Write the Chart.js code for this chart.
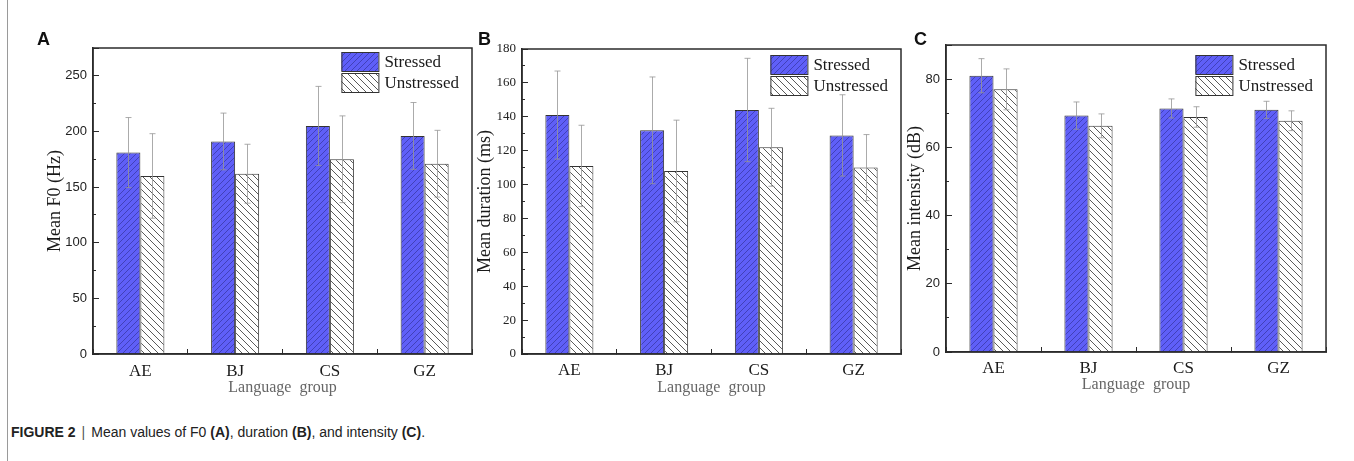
<!DOCTYPE html>
<html>
<head>
<meta charset="utf-8">
<script src="https://cdn.jsdelivr.net/npm/chart.js@4.4.1/dist/chart.umd.min.js"></script>
<style>
  html, body { margin: 0; padding: 0; background: #fff; }
  body { width: 1354px; height: 461px; position: relative; overflow: hidden; }
  .frame { position: absolute; left: 7px; top: 0; width: 1px; height: 461px; background: #9a9a9a; }
  .panel { position: absolute; top: 0; height: 400px; }
  .letter { position: absolute; font: bold 18px Arial, "Liberation Sans", sans-serif; line-height: 18px; color: #111; }
  .caption { position: absolute; left: 11px; top: 424px; font: 14px "Liberation Sans Narrow", "Liberation Sans", Arial, sans-serif; line-height: 16px; color: #222; white-space: nowrap; }
  .caption b { font-weight: bold; }
  .caption .sep { color: #555; margin: 0 6px; }
</style>
</head>
<body>
<div class="frame"></div>
<div class="panel" style="left:8px;width:480px"><canvas id="chartF0"></canvas></div>
<div class="panel" style="left:440px;width:470px"><canvas id="chartDur"></canvas></div>
<div class="panel" style="left:890px;width:464px"><canvas id="chartInt"></canvas></div>
<div class="letter" style="left:37px;top:30px">A</div>
<div class="letter" style="left:478px;top:30px">B</div>
<div class="letter" style="left:914px;top:30px">C</div>
<div class="caption"><b>FIGURE 2</b><span class="sep">|</span>Mean values of F0 <b>(A)</b>, duration <b>(B)</b>, and intensity <b>(C)</b>.</div>

<script>
// Datos
const groups = ['AE', 'BJ', 'CS', 'GZ'];

const f0Stressed = [181, 191, 205, 196];
const f0StressedSD = [31.5, 25.5, 35.5, 30];
const f0Unstressed = [160, 162, 175, 171];
const f0UnstressedSD = [38, 26.5, 39, 30];

const durStressed = [141, 132, 144, 129];
const durStressedSD = [26, 31.5, 30.5, 24];
const durUnstressed = [111, 108, 122, 110];
const durUnstressedSD = [24, 30, 23, 19.5];

const intStressed = [81, 69.3, 71.4, 71];
const intStressedSD = [5, 4, 2.8, 2.5];
const intUnstressed = [77, 66.3, 68.9, 67.8];
const intUnstressedSD = [6, 3.5, 3, 2.9];

const seriesNames = ['Stressed', 'Unstressed'];

const SERIF = '"Liberation Serif", "Times New Roman", serif';
const SANS = '"Liberation Sans", Arial, sans-serif';
const INK = '#2b2b2b';

// Patrones de rayado
function hatch(bg, fg, dir, size, lw) {
    const c = document.createElement('canvas');
    c.width = c.height = size;
    const g = c.getContext('2d');
    g.fillStyle = bg;
    g.fillRect(0, 0, size, size);
    g.strokeStyle = fg;
    g.lineWidth = lw;
    g.beginPath();
    if (dir === '/') {
        g.moveTo(0, size); g.lineTo(size, 0);
        g.moveTo(-2, 2); g.lineTo(2, -2);
        g.moveTo(size - 2, size + 2); g.lineTo(size + 2, size - 2);
    } else {
        g.moveTo(0, 0); g.lineTo(size, size);
        g.moveTo(size - 2, -2); g.lineTo(size + 2, 2);
        g.moveTo(-2, size - 2); g.lineTo(2, size + 2);
    }
    g.stroke();
    return g.createPattern(c, 'repeat');
}
const blueHatch = hatch('#5f5ff8', 'rgba(40,40,130,0.6)', '/', 6, 0.9);
const whiteHatch = hatch('#ffffff', 'rgba(50,50,50,0.8)', '\\', 7, 1);

// Barras de error
const errorBars = {
    id: 'errorBars',
    afterDatasetsDraw(chart) {
        const ctx = chart.ctx;
        const y = chart.scales.y;
        ctx.save();
        ctx.strokeStyle = 'rgba(150,150,150,0.8)';
        ctx.lineWidth = 1;
        chart.data.datasets.forEach((ds, i) => {
            chart.getDatasetMeta(i).data.forEach((bar, j) => {
                const top = y.getPixelForValue(ds.data[j] + ds.sd[j]);
                const bot = y.getPixelForValue(ds.data[j] - ds.sd[j]);
                const x = Math.round(bar.x) + 0.5;
                ctx.beginPath();
                ctx.moveTo(x, top); ctx.lineTo(x, bot);
                ctx.moveTo(x - 3, top); ctx.lineTo(x + 3, top);
                ctx.moveTo(x - 3, bot); ctx.lineTo(x + 3, bot);
                ctx.stroke();
            });
        });
        ctx.restore();
    }
};

// Marco y leyenda dentro del área
const frameLegend = {
    id: 'frameLegend',
    afterDraw(chart) {
        const ctx = chart.ctx;
        const a = chart.chartArea;
        ctx.save();
        ctx.strokeStyle = INK;
        ctx.lineWidth = 1.5;
        ctx.strokeRect(a.left, a.top, a.right - a.left, a.bottom - a.top);

        ctx.font = '17px ' + SERIF;
        ctx.textBaseline = 'middle';
        ctx.fillStyle = '#1a1a1a';
        const tw = Math.max(...seriesNames.map(n => ctx.measureText(n).width));
        const bw = 37, bh = 19;
        const x0 = a.right - 13 - tw - 6 - bw;
        const y0 = a.top + chart.options.legendTop;
        chart.data.datasets.forEach((ds, i) => {
            const yy = y0 + i * (bh + 2);
            ctx.fillStyle = ds.backgroundColor;
            ctx.fillRect(x0, yy, bw, bh);
            ctx.lineWidth = 1;
            ctx.strokeStyle = '#333';
            ctx.strokeRect(x0 + 0.5, yy + 0.5, bw, bh);
            ctx.fillStyle = '#1a1a1a';
            ctx.fillText(ds.label, x0 + bw + 6, yy + bh / 2 + 1);
        });
        ctx.restore();
    }
};

function makeChart(id, cfg) {
    const ctx = document.getElementById(id).getContext('2d');
    return new Chart(ctx, {
        type: 'bar',
        data: {
            labels: groups,
            datasets: [
                { label: seriesNames[0], data: cfg.stressed, sd: cfg.stressedSD, backgroundColor: blueHatch, borderColor: '#333', borderWidth: 1 },
                { label: seriesNames[1], data: cfg.unstressed, sd: cfg.unstressedSD, backgroundColor: whiteHatch, borderColor: '#333', borderWidth: 1 }
            ]
        },
        options: {
            responsive: false,
            animation: false,
            events: [],
            legendTop: cfg.legendTop,
            categoryPercentage: 0.507,
            barPercentage: 1,
            layout: { padding: { top: cfg.top, right: cfg.right, left: 0, bottom: 0 } },
            plugins: { legend: { display: false }, tooltip: { enabled: false } },
            scales: {
                x: {
                    grid: { drawOnChartArea: false, tickLength: -5, color: INK, offset: true },
                    border: { color: INK, width: 1.5 },
                    ticks: { color: '#1a1a1a', font: { family: SERIF, size: 17 }, padding: cfg.xPad },
                    title: { display: true, text: 'Language  group', color: '#666', font: { family: SERIF, size: 16 }, padding: { top: 0, bottom: cfg.xTitlePad } },
                    afterFit(s) { s.height = cfg.xHeight; }
                },
                y: {
                    min: 0, max: cfg.max, weight: 1,
                    grid: { drawOnChartArea: false, tickLength: -6, color: INK },
                    border: { color: INK, width: 1.5 },
                    ticks: {
                        stepSize: cfg.step, color: '#222', font: cfg.tickFont, padding: 12,
                        callback: v => (v % cfg.step === 0 ? v : '')
                    },
                    title: { display: true, text: cfg.yTitle, color: '#1a1a1a', font: { family: SERIF, size: 18 }, padding: { top: cfg.yTitlePad, bottom: 0 } },
                    afterFit(s) { s.width = cfg.yWidth; }
                },
                yMinor: {
                    position: 'left', min: 0, max: cfg.max, weight: 0,
                    grid: { drawOnChartArea: false, tickLength: -3, color: INK },
                    border: { display: false },
                    ticks: { stepSize: cfg.step / 2, display: false },
                    afterFit(s) { s.width = 0; }
                }
            }
        },
        plugins: [errorBars, frameLegend]
    });
}

function sizeCanvas(id, w, h) {
    const c = document.getElementById(id);
    c.width = w; c.height = h;
    c.style.width = w + 'px'; c.style.height = h + 'px';
}
sizeCanvas('chartF0', 480, 400);
sizeCanvas('chartDur', 470, 400);
sizeCanvas('chartInt', 464, 400);

makeChart('chartF0', {
    stressed: f0Stressed, stressedSD: f0StressedSD,
    unstressed: f0Unstressed, unstressedSD: f0UnstressedSD,
    max: 275, step: 50, yTitle: 'Mean F0 (Hz)',
    tickFont: { family: SANS, size: 13 },
    top: 48, right: 16, yWidth: 85, yTitlePad: 36, xHeight: 46, xPad: 12, xTitlePad: 3, legendTop: 4
});

makeChart('chartDur', {
    stressed: durStressed, stressedSD: durStressedSD,
    unstressed: durUnstressed, unstressedSD: durUnstressedSD,
    max: 180, step: 20, yTitle: 'Mean duration (ms)',
    tickFont: { family: SERIF, size: 13 },
    top: 49, right: 9, yWidth: 82, yTitlePad: 34, xHeight: 46, xPad: 11, xTitlePad: 3, legendTop: 6
});

makeChart('chartInt', {
    stressed: intStressed, stressedSD: intStressedSD,
    unstressed: intUnstressed, unstressedSD: intUnstressedSD,
    max: 90, step: 20, yTitle: 'Mean intensity (dB)',
    tickFont: { family: SANS, size: 13 },
    top: 45, right: 28, yWidth: 56, yTitlePad: 14, xHeight: 48, xPad: 11, xTitlePad: 6, legendTop: 10
});
</script>
</body>
</html>
